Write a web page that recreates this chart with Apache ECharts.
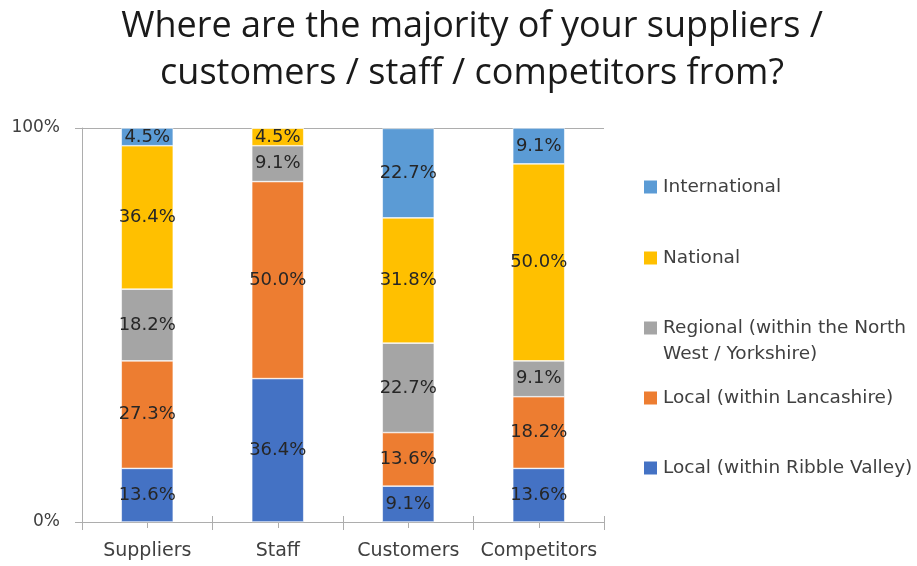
<!DOCTYPE html>
<html>
<head>
<meta charset="utf-8">
<script src="https://cdn.jsdelivr.net/npm/echarts@6/dist/echarts.min.js"></script>
<style>
  html, body { margin: 0; padding: 0; background: #fff; }
  #chart { width: 917px; height: 566px; }
</style>
</head>
<body>
<div id="chart"></div>
<script>
// Survey answers, percent of respondents per group
const categories = ['Suppliers', 'Staff', 'Customers', 'Competitors'];
const ribbleValley = [13.6, 36.4, 9.1, 13.6];
const lancashire   = [27.3, 50.0, 13.6, 18.2];
const regional     = [18.2, 9.1, 22.7, 9.1];
const national     = [36.4, 4.5, 31.8, 50.0];
const international = [4.5, 0, 22.7, 9.1];
const yTicks = [0, 100];

const seriesNames = [
  'Local (within Ribble Valley)',
  'Local (within Lancashire)',
  'Regional (within the North\nWest / Yorkshire)',
  'National',
  'International'
];
const seriesValues = [ribbleValley, lancashire, regional, national, international];
const colors = ['#4472C4', '#ED7D31', '#A5A5A5', '#FFC000', '#5B9BD5'];

const axisGray = '#ADADAD';
const textFont = 'DejaVu Sans';
const legendLine = 26;
const plotBox = { left: 82, right: 313, top: 128, bottom: 44 };

const chart = echarts.init(document.getElementById('chart'), null, { renderer: 'canvas' });

// one legend block per entry, listed top to bottom; the two-line entry
// gets a blank leading line so its swatch sits beside the first text line
const legendTops = [169, 240, 284, 380, 450];
const legendOrder = [4, 3, 2, 1, 0];
const legends = legendOrder.map((si, i) => ({
  data: [seriesNames[si]],
  left: 637,
  top: legendTops[i],
  orient: 'vertical',
  icon: 'rect',
  itemWidth: 15,
  itemHeight: 15,
  itemGap: 0,
  selectedMode: false,
  formatter: si === 2 ? (name => '\n' + name) : '{name}',
  textStyle: {
    fontFamily: textFont,
    fontSize: 18.5,
    color: '#404040',
    lineHeight: legendLine
  }
}));

const series = seriesValues.map((vals, i) => ({
  name: seriesNames[i],
  type: 'bar',
  stack: 'share',
  barWidth: 52,
  data: vals,
  itemStyle: { color: colors[i], borderColor: '#ffffff', borderWidth: 0.6 },
  label: {
    show: true,
    position: 'inside',
    fontFamily: textFont,
    fontSize: 18,
    color: '#262626',
    formatter: p => (p.value ? p.value.toFixed(1) + '%' : '')
  },
  emphasis: { disabled: true }
}));

// overlay grids only carry the cross-shaped ticks at category boundaries
const boundaryTicks = (gridIndex, inside, length) => ({
  type: 'category',
  gridIndex: gridIndex,
  data: categories,
  position: 'bottom',
  axisLine: { show: false },
  axisTick: { show: true, inside: inside, interval: 0, length: length, lineStyle: { color: axisGray } },
  axisLabel: { show: false }
});
const hiddenY = gridIndex => ({
  type: 'value', gridIndex: gridIndex, min: 0, max: 1, show: false
});

chart.setOption({
  animation: false,
  backgroundColor: '#ffffff',
  title: {
    text: 'Where are the majority of your suppliers /\ncustomers / staff / competitors from?',
    left: 467,
    top: -2,
    textAlign: 'center',
    textStyle: {
      fontFamily: 'Open Sans',
      fontWeight: 'normal',
      fontSize: 36,
      lineHeight: 47,
      color: '#1a1a1a'
    }
  },
  legend: legends,
  grid: [
    Object.assign({}, plotBox),
    Object.assign({}, plotBox),
    Object.assign({}, plotBox)
  ],
  xAxis: [
    {
      // main axis: labels plus short ticks under each category centre
      type: 'category',
      gridIndex: 0,
      data: categories,
      axisLine: { show: true, lineStyle: { color: axisGray, width: 1 } },
      axisTick: { show: true, alignWithLabel: true, interval: 0, length: 6, lineStyle: { color: axisGray } },
      axisLabel: {
        interval: 0,
        margin: 20,
        fontFamily: textFont,
        fontSize: 19,
        color: '#404040'
      }
    },
    boundaryTicks(1, false, 8),
    boundaryTicks(2, true, 6)
  ],
  yAxis: [
    {
      type: 'value',
      gridIndex: 0,
      min: yTicks[0],
      max: yTicks[yTicks.length - 1],
      interval: yTicks[1] - yTicks[0],
      axisLine: { show: true, lineStyle: { color: axisGray, width: 1 } },
      axisTick: { show: true, length: 7, lineStyle: { color: axisGray } },
      splitLine: { show: true, lineStyle: { color: axisGray, width: 1 } },
      axisLabel: {
        margin: 22,
        fontFamily: textFont,
        fontSize: 17,
        color: '#404040',
        formatter: '{value}%'
      }
    },
    hiddenY(1),
    hiddenY(2)
  ],
  series: series
});
</script>
</body>
</html>
